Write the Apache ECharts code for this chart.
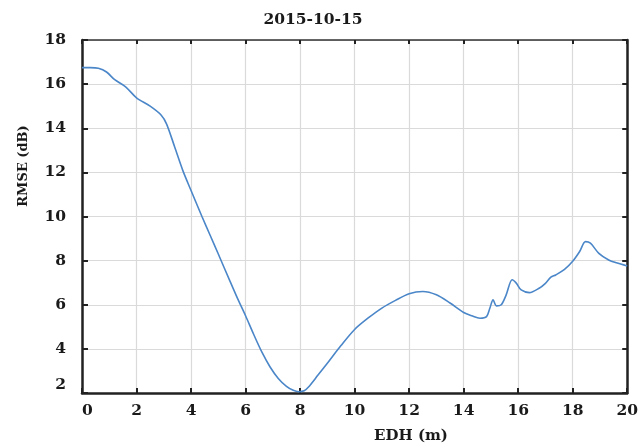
<!DOCTYPE html>
<html>
<head>
<meta charset="utf-8">
<script src="https://cdn.jsdelivr.net/npm/echarts@6/dist/echarts.min.js"></script>
<style>
html,body{margin:0;padding:0;background:#fff;}
#c{width:641px;height:445px;}
</style>
</head>
<body>
<div id="c"></div>
<script>
var titleText = '2015-10-15';
var xName = 'EDH (m)';
var yName = 'RMSE (dB)';
var edh = [0, 0.3, 0.6, 0.9, 1.2, 1.6, 2.0, 2.5, 2.9, 3.1, 3.4, 3.7, 4.0, 4.4, 4.7, 5.0, 5.4, 5.7, 6.0, 6.3, 6.6, 6.9, 7.2, 7.5, 7.75, 7.95, 8.15, 8.3, 8.65, 9.0, 9.5, 10.0, 10.5, 11.0, 11.5, 12.0, 12.5, 13.0, 13.5, 14.0, 14.3, 14.6, 14.84, 14.96, 15.08, 15.2, 15.38, 15.56, 15.78, 15.93, 16.11, 16.41, 16.77, 17.0, 17.2, 17.38, 17.7, 18.0, 18.25, 18.47, 18.65, 18.96, 19.32, 19.6, 20.0];
var rmse = [16.75, 16.75, 16.72, 16.55, 16.2, 15.88, 15.38, 15.0, 14.6, 14.2, 13.15, 12.08, 11.18, 10.0, 9.15, 8.3, 7.15, 6.3, 5.5, 4.65, 3.85, 3.18, 2.66, 2.3, 2.12, 2.06, 2.1, 2.26, 2.8, 3.35, 4.15, 4.88, 5.4, 5.85, 6.2, 6.5, 6.6, 6.45, 6.08, 5.65, 5.5, 5.39, 5.46, 5.84, 6.22, 5.95, 6.0, 6.45, 7.13, 6.98, 6.67, 6.55, 6.75, 6.97, 7.25, 7.35, 7.6, 7.97, 8.4, 8.86, 8.79, 8.33, 8.03, 7.9, 7.76];
var xMin = 0, xMax = 20, xStep = 2;
var yMin = 2, yMax = 18, yStep = 2;

var pts = edh.map(function (x, i) { return [x, rmse[i]]; });
var serif = 'DejaVu Serif';
var txt = '#1a1a1a';

var chart = echarts.init(document.getElementById('c'), null, {renderer: 'canvas'});
chart.setOption({
  animation: false,
  backgroundColor: '#ffffff',
  grid: {left: 82, right: 9, top: 40, bottom: 52, containLabel: false},
  xAxis: [{
    type: 'value', min: xMin, max: xMax, interval: xStep, position: 'bottom',
    axisLine: {show: true, onZero: false, lineStyle: {color: '#222', width: 2.5}},
    axisTick: {show: true, inside: true, length: 5, lineStyle: {color: '#222', width: 2}},
    axisLabel: {color: txt, fontFamily: serif, fontWeight: 'bold', fontSize: 15.5, margin: 10, alignMinLabel: 'left'},
    splitLine: {show: true, lineStyle: {color: '#dadada', width: 1.2}}
  }, {
    type: 'value', min: xMin, max: xMax, interval: xStep, position: 'top',
    axisLine: {show: true, onZero: false, lineStyle: {color: '#333', width: 1.5}},
    axisTick: {show: true, inside: true, length: 4, lineStyle: {color: '#222', width: 2}},
    axisLabel: {show: false},
    splitLine: {show: false}
  }],
  yAxis: [{
    type: 'value', min: yMin, max: yMax, interval: yStep, position: 'left',
    axisLine: {show: true, onZero: false, lineStyle: {color: '#222', width: 2.5}},
    axisTick: {show: true, inside: true, length: 6, lineStyle: {color: '#222', width: 2}},
    axisLabel: {color: txt, fontFamily: serif, fontWeight: 'bold', fontSize: 15.5, margin: 16, verticalAlignMinLabel: 'bottom'},
    splitLine: {show: true, lineStyle: {color: '#dadada', width: 1.2}}
  }, {
    type: 'value', min: yMin, max: yMax, interval: yStep, position: 'right',
    axisLine: {show: true, onZero: false, lineStyle: {color: '#222', width: 2.5}},
    axisTick: {show: true, inside: true, length: 5, lineStyle: {color: '#222', width: 2}},
    axisLabel: {show: false},
    splitLine: {show: false}
  }],
  series: [{
    type: 'line',
    xAxisIndex: 0, yAxisIndex: 0,
    data: pts,
    smooth: 0.3,
    showSymbol: false,
    symbol: 'none',
    lineStyle: {color: '#4a86c8', width: 1.6}
  }],
  graphic: [{
    type: 'text', x: 313, y: 20,
    style: {text: titleText, fill: txt, font: 'bold 15.5px "DejaVu Serif"', textAlign: 'center', textVerticalAlign: 'middle'}
  }, {
    type: 'text', x: 411, y: 436,
    style: {text: xName, fill: txt, font: 'bold 15px "DejaVu Serif"', textAlign: 'center', textVerticalAlign: 'middle'}
  }, {
    type: 'text', x: 24, y: 166, rotation: Math.PI / 2,
    style: {text: yName, fill: txt, font: 'bold 13px "DejaVu Serif"', textAlign: 'center', textVerticalAlign: 'middle'}
  }]
});
</script>
</body>
</html>
